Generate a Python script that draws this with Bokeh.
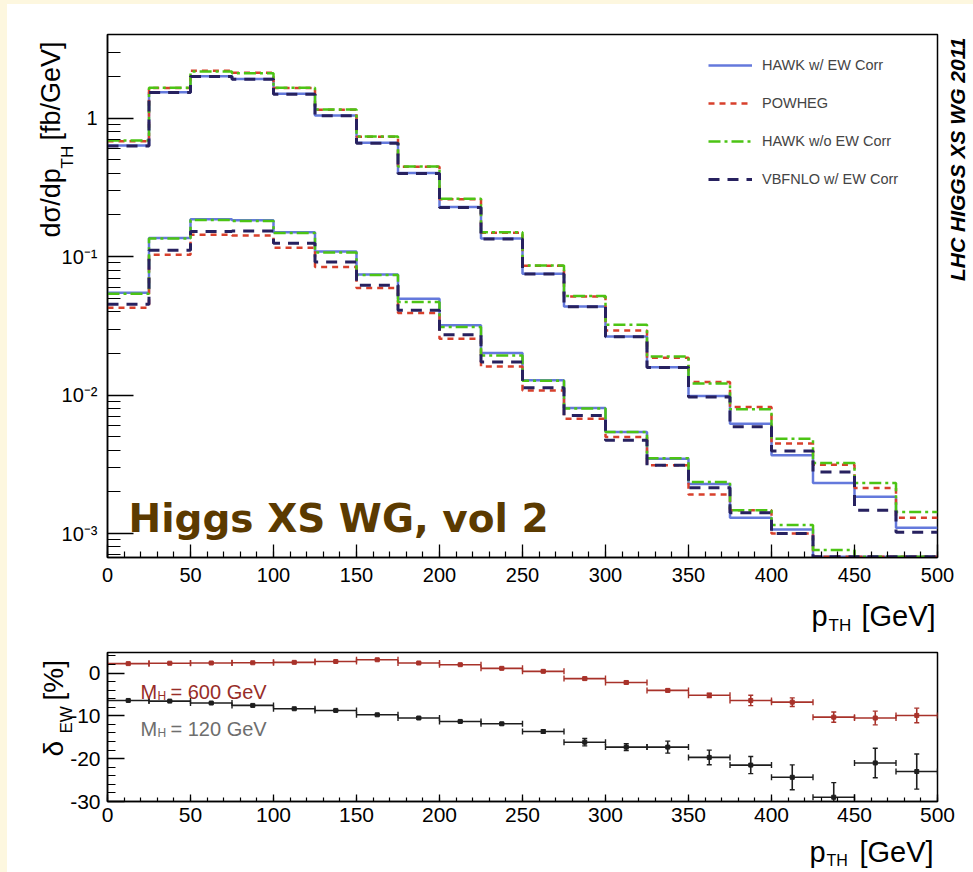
import math
from bokeh.plotting import figure
from bokeh.models import (ColumnDataSource, FixedTicker, CustomJSTickFormatter, Label,
                          Legend, LegendItem, Spacer, GridBox, Range1d)
from bokeh.layouts import column, row
from bokeh.embed import file_html
from bokeh.resources import INLINE

# ---------------------------------------------------------------- data
pt_edges = [0, 25, 50, 75, 100, 125, 150, 175, 200, 225, 250,
            275, 300, 325, 350, 375, 400, 425, 450, 475, 500]

# dsigma/dpT [fb/GeV], M_H = 120 GeV
hawk_ew_120 = [0.635, 1.54, 2.01, 1.92, 1.50, 1.046, 0.664, 0.401, 0.228, 0.135,
               0.0752, 0.0437, 0.0265, 0.0159, 0.00984, 0.0062, 0.00367, 0.00232, 0.00184, 0.0011]
powheg_120 = [0.68, 1.65, 2.20, 2.13, 1.65, 1.15, 0.735, 0.445, 0.260, 0.149,
              0.0860, 0.0515, 0.0293, 0.0186, 0.0124, 0.0082, 0.00446, 0.00314, 0.00213, 0.0013]
hawk_noew_120 = [0.69, 1.66, 2.17, 2.11, 1.66, 1.156, 0.738, 0.448, 0.262, 0.150,
                 0.0864, 0.0519, 0.0322, 0.0190, 0.0121, 0.0079, 0.00484, 0.00323, 0.00232, 0.00143]
vbfnlo_120 = [0.63, 1.53, 2.00, 1.91, 1.49, 1.04, 0.660, 0.398, 0.226, 0.134,
              0.0748, 0.0435, 0.0264, 0.0158, 0.0097, 0.0059, 0.00394, 0.00278, 0.00147, 0.00102]

# dsigma/dpT [fb/GeV], M_H = 600 GeV (last bins sit at the plotted minimum)
hawk_ew_600 = [0.0549, 0.136, 0.186, 0.183, 0.150, 0.109, 0.0744, 0.0497, 0.0319, 0.0201,
               0.0128, 0.00806, 0.00541, 0.00347, 0.00228, 0.0013, 0.00107, 0.00068, 0.00068, 0.00068]
powheg_600 = [0.0428, 0.103, 0.144, 0.142, 0.116, 0.084, 0.0593, 0.0391, 0.0255, 0.0161,
              0.0108, 0.00675, 0.00498, 0.00311, 0.00191, 0.00147, 0.0010, 0.00068, 0.00068, 0.00068]
hawk_noew_600 = [0.054, 0.135, 0.184, 0.181, 0.148, 0.107, 0.0735, 0.047, 0.031, 0.0193,
                 0.0127, 0.0080, 0.0054, 0.0035, 0.00236, 0.00147, 0.00115, 0.00076, 0.00068, 0.00068]
vbfnlo_600 = [0.0452, 0.111, 0.152, 0.153, 0.125, 0.0913, 0.062, 0.0409, 0.0273, 0.0173,
              0.0113, 0.00713, 0.00471, 0.00311, 0.00214, 0.00141, 0.0010, 0.00068, 0.00068, 0.00068]

# relative EW correction delta_EW [%] with statistical errors
delta_600 = [2.2, 2.3, 2.35, 2.4, 2.5, 2.7, 3.1, 2.35, 1.95, 1.1,
             0.4, -1.3, -2.2, -4.05, -5.2, -6.4, -6.8, -10.3, -10.5, -9.9]
err_600 = [0.1, 0.1, 0.1, 0.1, 0.1, 0.15, 0.2, 0.15, 0.15, 0.2,
           0.25, 0.25, 0.3, 0.3, 0.5, 1.2, 1.0, 1.2, 1.6, 1.7]
delta_120 = [-6.4, -6.55, -7.0, -7.56, -8.34, -8.73, -9.75, -10.5, -11.3, -11.85,
             -13.65, -16.15, -17.3, -17.3, -19.7, -21.5, -24.35, -29.0, -21.0, -23.0]
err_120 = [0.1, 0.1, 0.1, 0.1, 0.1, 0.15, 0.15, 0.2, 0.2, 0.25,
           0.35, 0.85, 0.8, 1.4, 1.7, 2.0, 2.9, 3.4, 3.45, 4.1]

x_ticks = [0, 50, 100, 150, 200, 250, 300, 350, 400, 450, 500]
log_ticks = [1e-3, 1e-2, 1e-1, 1.0]
delta_ticks = [-30, -20, -10, 0]

# ---------------------------------------------------------------- styling
FONT = "Liberation Sans"
CREAM = "#fdf7df"
C_BLUE, C_RED, C_GREEN, C_NAVY = "#6479dc", "#d8402c", "#4cc414", "#27215f"
C_600, C_120 = "#a8322a", "#1e1e1e"
C_600_TXT, C_120_TXT = "#982d28", "#6e6e6e"

PAGE_W, PAGE_H = 973, 872
XMIN, XMAX = 0, 500
YMIN, YMAX = 6.71e-4, 4.02
DMIN, DMAX = -30, 4.8

# frame geometry on the page
FX0, FX1 = 107, 937
T_TOP, T_BOT = 34, 557
B_TOP, B_BOT = 652, 801


def step_y(vals):
    return list(vals) + [vals[-1]]


def style_axes(p, size, xmaj, xmin_len, ymaj, ymin_len, xstand, ystand):
    p.grid.visible = False
    p.outline_line_color = "black"
    p.outline_line_width = 1.5
    for ax, maj, mnr, st in ((p.xaxis[0], xmaj, xmin_len, xstand), (p.yaxis[0], ymaj, ymin_len, ystand)):
        ax.axis_line_color = "black"
        ax.axis_line_width = 1.5
        ax.major_tick_in = maj
        ax.major_tick_out = 0
        ax.minor_tick_in = mnr
        ax.minor_tick_out = 0
        ax.major_tick_line_color = "black"
        ax.minor_tick_line_color = "black"
        ax.major_tick_line_width = 1.3
        ax.minor_tick_line_width = 1.2
        ax.major_label_text_font = FONT
        ax.major_label_text_font_size = size
        ax.major_label_text_color = "black"
        ax.major_label_standoff = st


def add_text(p, x, y, text, size, color="black", angle=0.0, font=FONT, style="normal", align="left"):
    p.add_layout(Label(x=x, y=y, text=text, angle=angle, text_font=font,
                       text_font_size=size, text_color=color, text_font_style=style,
                       text_align=align, text_baseline="alphabetic"))


# ---------------------------------------------------------------- upper panel
p1 = figure(x_range=(XMIN, XMAX), y_range=(YMIN, YMAX), y_axis_type="log",
            frame_width=FX1 - FX0, frame_height=T_BOT - T_TOP,
            min_border_left=100, min_border_right=36, min_border_top=30, min_border_bottom=82,
            output_backend="svg", toolbar_location=None,
            background_fill_color="white", border_fill_color="white")
style_axes(p1, "20px", 13, 6, 26, 13, 10, 10)
p1.xaxis[0].ticker = FixedTicker(ticks=x_ticks, minor_ticks=list(range(0, 501, 10)))
p1.yaxis[0].ticker = FixedTicker(ticks=log_ticks,
                                 minor_ticks=[m * 10.0 ** e for e in range(-4, 1) for m in range(2, 10)])
p1.yaxis[0].formatter = CustomJSTickFormatter(code="""
    const e = Math.round(Math.log10(tick));
    if (e === 0) return "1";
    const sup = {"-": "\u207b", "0": "\u2070", "1": "\u00b9", "2": "\u00b2", "3": "\u00b3", "4": "\u2074"};
    return "10" + String(e).split("").map(c => sup[c]).join("");
""")

series = [
    ("HAWK w/ EW Corr", hawk_ew_120, hawk_ew_600, C_BLUE, "solid", 2.5),
    ("POWHEG", powheg_120, powheg_600, C_RED, "6 5", 2.5),
    ("HAWK w/o EW Corr", hawk_noew_120, hawk_noew_600, C_GREEN, "12 4 3 4", 2.5),
    ("VBFNLO w/ EW Corr", vbfnlo_120, vbfnlo_600, C_NAVY, "11 8", 3.0),
]
legend_items = []
for name, v120, v600, color, dash, width in series:
    r = p1.step(x=pt_edges, y=step_y(v120), mode="after", line_color=color,
                line_dash=dash, line_width=width)
    p1.step(x=pt_edges, y=step_y(v600), mode="after", line_color=color,
            line_dash=dash, line_width=width)
    legend_items.append(LegendItem(label=name, renderers=[r]))

legend = Legend(items=legend_items, location=(601, 368), border_line_alpha=0,
                background_fill_alpha=0, padding=0, margin=0, spacing=18,
                glyph_width=44, glyph_height=20, label_height=20, label_standoff=10,
                label_text_font=FONT, label_text_font_size="14.5px")
p1.add_layout(legend)

# ---------------------------------------------------------------- lower panel
p2 = figure(x_range=(XMIN, XMAX), y_range=(DMIN, DMAX),
            frame_width=FX1 - FX0, frame_height=B_BOT - B_TOP,
            min_border_left=100, min_border_right=36, min_border_top=13, min_border_bottom=71,
            output_backend="svg", toolbar_location=None,
            background_fill_color="white", border_fill_color="white")
style_axes(p2, "21px", 7, 4, 17, 8, 6, 7)
p2.xaxis[0].ticker = FixedTicker(ticks=x_ticks, minor_ticks=list(range(0, 501, 10)))
p2.yaxis[0].ticker = FixedTicker(ticks=delta_ticks, minor_ticks=list(range(-30, 5, 2)))
p2.yaxis[0].formatter = CustomJSTickFormatter(
    code='return tick < 0 ? "-" + Math.abs(tick) : String(tick);')

centers = [(a + b) / 2 for a, b in zip(pt_edges[:-1], pt_edges[1:])]
for vals, errs, color in ((delta_600, err_600, C_600), (delta_120, err_120, C_120)):
    src = ColumnDataSource(dict(
        x=centers, lo=pt_edges[:-1], hi=pt_edges[1:], y=vals,
        ylo=[v - e for v, e in zip(vals, errs)], yhi=[v + e for v, e in zip(vals, errs)]))
    p2.segment(x0="lo", x1="hi", y0="y", y1="y", source=src, line_color=color, line_width=1.6)
    p2.segment(x0="x", x1="x", y0="ylo", y1="yhi", source=src, line_color=color, line_width=1.6)
    p2.scatter(x="lo", y="y", source=src, marker="dash", angle=math.pi / 2, size=6,
               line_color=color, line_width=1.4)
    p2.scatter(x="hi", y="y", source=src, marker="dash", angle=math.pi / 2, size=6,
               line_color=color, line_width=1.4)
    p2.scatter(x="x", y="ylo", source=src, marker="dash", size=5, line_color=color, line_width=1.4)
    p2.scatter(x="x", y="yhi", source=src, marker="dash", size=5, line_color=color, line_width=1.4)
    p2.scatter(x="x", y="y", source=src, marker="square", size=4, color=color)

# ---------------------------------------------------------------- text layer
# A transparent figure spanning the whole page, whose data units are page pixels
# (y pointing down). It carries the titles that sit outside the two frames.
overlay = figure(width=PAGE_W, height=PAGE_H, x_range=Range1d(0, PAGE_W), y_range=Range1d(PAGE_H, 0),
                 min_border=0, x_axis_location=None, y_axis_location=None,
                 output_backend="svg", toolbar_location=None)
overlay.grid.visible = False
overlay.outline_line_color = None
overlay.background_fill_alpha = 0
overlay.border_fill_alpha = 0

up = math.pi / 2
# upper panel
add_text(overlay, 50, 237, "d\u03c3/dp", "27px", angle=up)
add_text(overlay, 67, 168, "TH", "17px", angle=up)
add_text(overlay, 50, 140, "[fb/GeV]", "27px", angle=up)
add_text(overlay, 811, 615, "p", "29px")
add_text(overlay, 828, 625, "TH", "17px")
add_text(overlay, 861, 615, "[GeV]", "29px")
add_text(overlay, 957, 37, "LHC HIGGS XS WG 2011", "21px", angle=up, style="bold italic", align="right")
add_text(overlay, 128, 518, "Higgs XS WG, vol 2", "39px", color="#5b3a00",
         font="DejaVu Sans", style="bold")
# lower panel
add_text(overlay, 140, 691, "M", "20px", color=C_600_TXT)
add_text(overlay, 157, 695, "H", "12px", color=C_600_TXT)
add_text(overlay, 170, 691, "= 600 GeV", "20px", color=C_600_TXT)
add_text(overlay, 140, 728, "M", "20px", color=C_120_TXT)
add_text(overlay, 157, 732, "H", "12px", color=C_120_TXT)
add_text(overlay, 170, 728, "= 120 GeV", "20px", color=C_120_TXT)
add_text(overlay, 53, 756, "\u03b4", "28px", angle=up)
add_text(overlay, 66, 733, "EW", "17px", angle=up)
add_text(overlay, 53, 700, "[%]", "28px", angle=up)
add_text(overlay, 809, 851, "p", "29px")
add_text(overlay, 826, 860, "TH", "16px")
add_text(overlay, 859, 851, "[GeV]", "29px")

# ---------------------------------------------------------------- page
left_strip = Spacer(width=7, height=PAGE_H, styles={"background-color": CREAM})
top_strip = Spacer(width=PAGE_W - 7, height=4, styles={"background-color": CREAM})
panels = row(left_strip, column(top_strip, p1, p2, spacing=0), spacing=0)
page = GridBox(children=[(panels, 0, 0), (overlay, 0, 0)])

open("out.html", "w", encoding="utf-8").write(file_html(page, INLINE))
